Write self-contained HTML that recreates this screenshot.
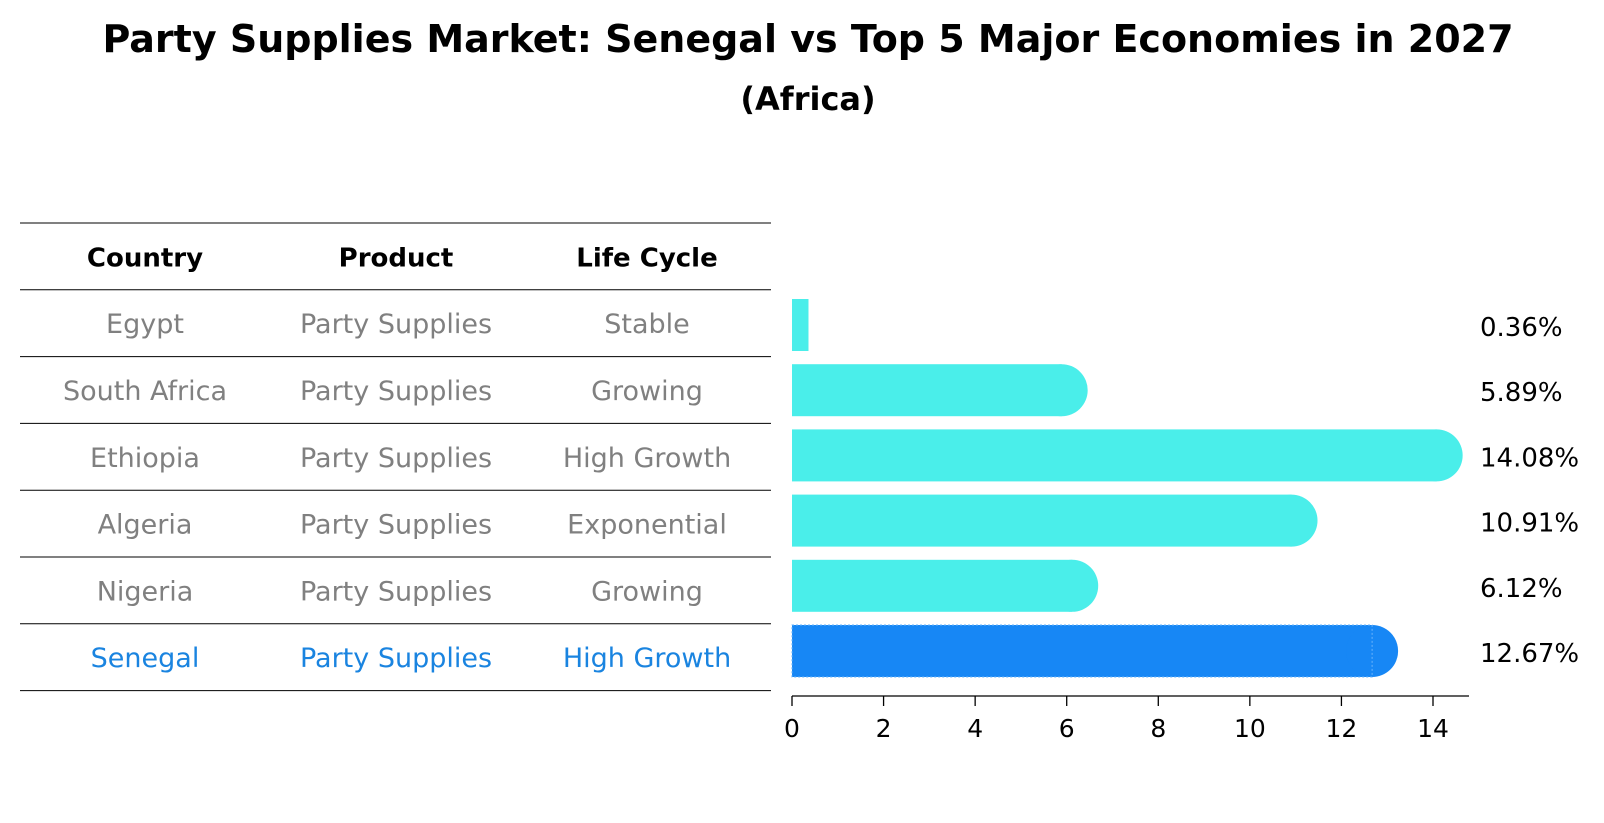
<!DOCTYPE html>
<html><head><meta charset="utf-8"><style>
html,body{margin:0;padding:0;background:#fff;overflow:hidden;width:1604px;height:823px;}
svg{display:block;}
svg text{font-family:"DejaVu Sans","Liberation Sans",sans-serif;}
</style></head><body>
<svg width="1604" height="823" viewBox="0 0 1604 823" id="svg">
<text x="808" y="52" text-anchor="middle" font-size="38" font-weight="bold">Party Supplies Market: Senegal vs Top 5 Major Economies in 2027</text>
<text x="808" y="110" text-anchor="middle" font-size="32" font-weight="bold">(Africa)</text>
<g id="table"></g>
<g id="bars"></g>
</svg>
<script>
const countries=["Egypt","South Africa","Ethiopia","Algeria","Nigeria","Senegal"];
const products=["Party Supplies","Party Supplies","Party Supplies","Party Supplies","Party Supplies","Party Supplies"];
const lifeCycles=["Stable","Growing","High Growth","Exponential","Growing","High Growth"];
const values=[0.36,5.89,14.08,10.91,6.12,12.67];
const valueLabels=["0.36%","5.89%","14.08%","10.91%","6.12%","12.67%"];
const ticks=[0,2,4,6,8,10,12,14];
const NS="http://www.w3.org/2000/svg";
function mk(tag,attrs,parent,txt){const e=document.createElementNS(NS,tag);for(const k in attrs)e.setAttribute(k,attrs[k]);if(txt!==undefined)e.textContent=txt;parent.appendChild(e);return e;}
const x0=792,ppu=(1433-792)/14;
const xs=v=>x0+v*ppu;
const tbl=document.getElementById('table'),bars=document.getElementById('bars');
const top0=223,rowH=66.8;
for(let i=0;i<8;i++){const y=top0+i*rowH;const l=mk('line',{x1:20,x2:771,y1:y,y2:y,stroke:'#000','stroke-width':1},tbl);

}
const cols=[145,396,647];
["Country","Product","Life Cycle"].forEach((h,j)=>{const t=mk('text',{x:cols[j],y:top0+rowH/2+10,'text-anchor':'middle','font-size':26,'font-weight':'bold'},tbl,h);

});
countries.forEach((c,i)=>{const y=top0+rowH*(i+1)+rowH/2+10;const col=i===5?'#1a84e0':'#808080';
[c,products[i],lifeCycles[i]].forEach((s,j)=>{const t=mk('text',{x:cols[j],y:y,'text-anchor':'middle','font-size':27,fill:col},tbl,s);

});});
const h=52,r=26;
values.forEach((v,i)=>{const yc=325+i*65.2;const col=i===5?'#1787f5':'#4aeeea';const w=xs(v)-x0;
const g=mk('g',{},bars);


mk('rect',{x:x0,y:yc-h/2,width:w,height:h,fill:col},g);
if(w>r)mk('circle',{cx:xs(v),cy:yc,r:r,fill:col},g);
if(i===5)mk('rect',{x:x0,y:yc-h/2,width:w,height:h,fill:'none',stroke:'#6ab4fa','stroke-width':1,'stroke-dasharray':'2 2'},g);
const t=mk('text',{x:1480,y:yc+11,'font-size':26},bars,valueLabels[i]);

});
const ax=mk('line',{x1:x0,x2:1469,y1:696,y2:696,stroke:'#000','stroke-width':1.3},bars);


ticks.forEach(t=>{mk('line',{x1:xs(t),x2:xs(t),y1:696,y2:706,stroke:'#000','stroke-width':1.3},bars);
const tx=mk('text',{x:xs(t),y:737,'text-anchor':'middle','font-size':25},bars,t);

});
</script>
</body></html>
